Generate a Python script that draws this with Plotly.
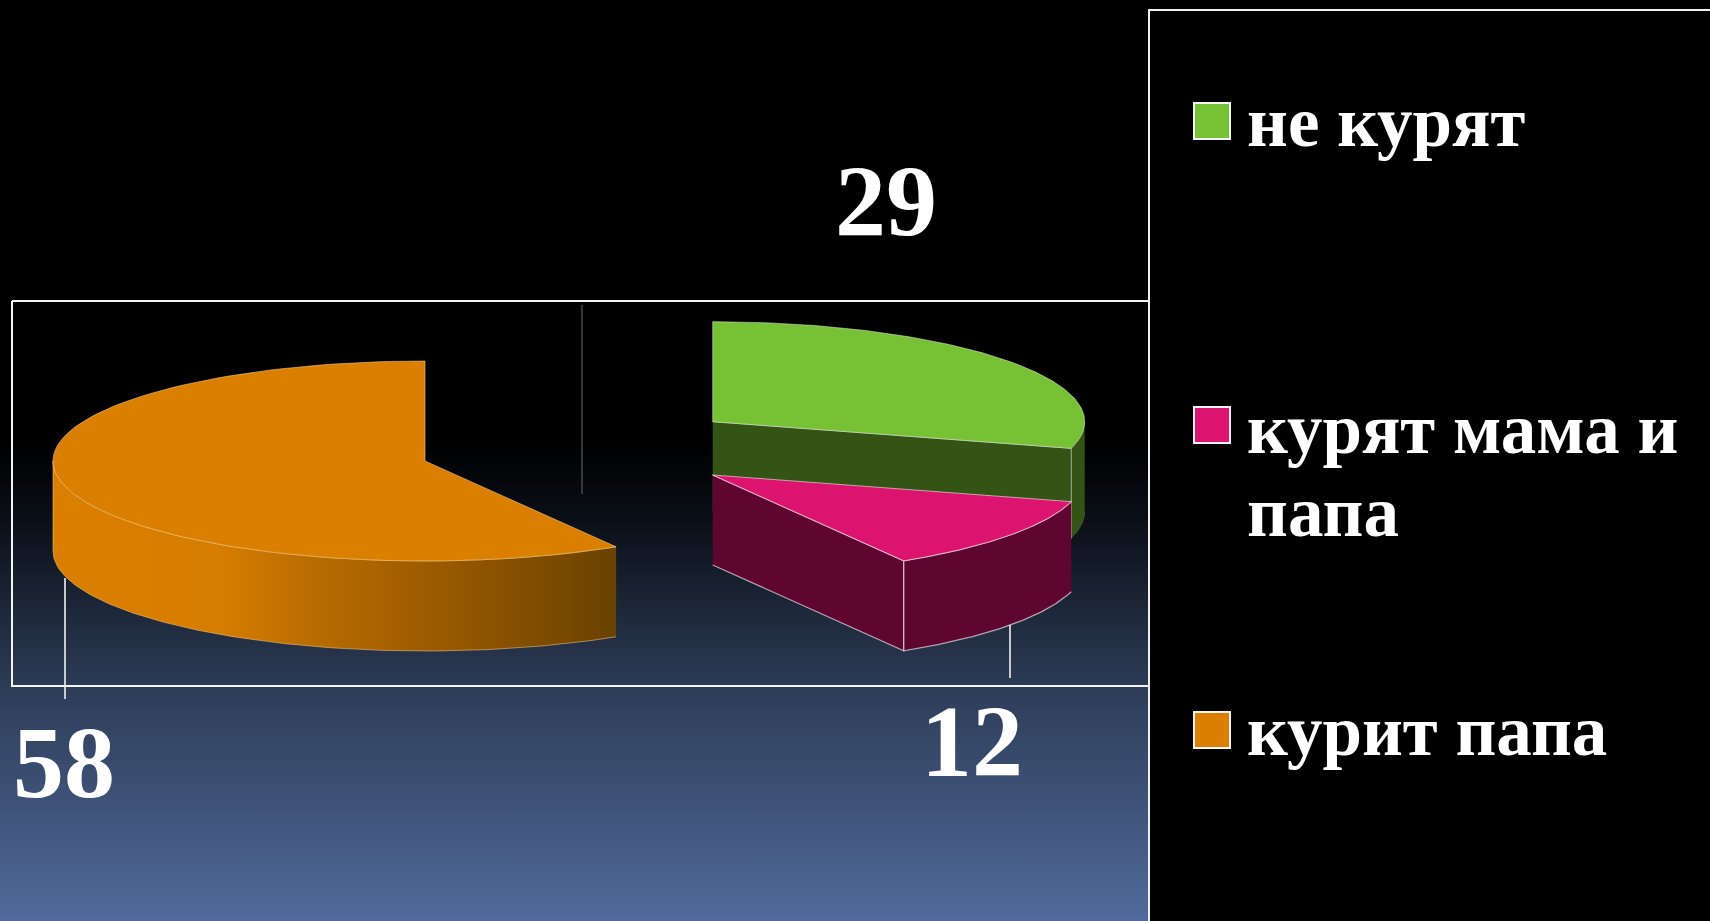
import numpy as np
import plotly.graph_objects as go

# ---- chart data ----
categories = ["не курят", "курят мама и папа", "курит папа"]
legend_lines = ["не курят", "курят мама и", "папа", "курит папа"]
values = [29, 12, 58]
top_colors = ["#77c135", "#dc146f", "#db7f00"]
side_colors = ["#345416", "#5e0530", "#db7f00"]

# ---- layout constants (pixel-space axes) ----
W, H = 1710, 921
RX, RY, DEPTH = 372, 100, 90
apexes = [(712.7, 421.7), (712.7, 475.0), (425.0, 461.0)]
label_pos = [(886, 210), (972, 750), (64, 771)]
leaders = [((582, 582), (305, 494), "#444444"),
           ((1010, 1010), (625, 678), "#f0f0f0"),
           ((65, 65), (578, 699), "#f0f0f0")]
EDGE = "rgba(255,255,255,0.55)"
SERIF = "Liberation Serif"

fig = go.Figure()


def poly(xs, ys, color=None, line=EDGE, width=1, gradient=None):
    kw = dict(fillgradient=gradient) if gradient else dict(fillcolor=color)
    fig.add_trace(go.Scatter(x=list(xs), y=list(ys), mode="lines", fill="toself",
                             line=dict(color=line, width=width),
                             hoverinfo="skip", showlegend=False, **kw))


def arc(apex, t0, t1, dy=0.0, n=120):
    t = np.radians(np.linspace(t0, t1, n))
    return apex[0] + RX * np.sin(t), apex[1] - RY * np.cos(t) + dy


# background gradient
poly([0, W, W, 0], [0, 0, H, H], line="rgba(0,0,0,0)", width=0,
     gradient=dict(type="vertical", start=0, stop=H,
                   colorscale=[[0, "#000000"], [0.48, "#000000"], [0.56, "#0a0e16"],
                               [0.76, "#2f3f5b"], [1, "#516a9b"]]))
# plot-area frame
fig.add_trace(go.Scatter(x=[12, 1149, 1149, 12, 12], y=[301, 301, 686, 686, 301], mode="lines",
                         line=dict(color="#f4f4f4", width=2), hoverinfo="skip", showlegend=False))
# leader lines
for lx, ly, lc in leaders:
    fig.add_trace(go.Scatter(x=lx, y=ly, mode="lines", line=dict(color=lc, width=1.6),
                             hoverinfo="skip", showlegend=False))

# slice angles come from the values
total = sum(values)
ends = np.cumsum(values) / total * 360.0
starts = np.r_[0.0, ends[:-1]]

# green slice
a = apexes[0]; t0, t1 = starts[0], ends[0]
rx, ry = arc(a, max(t0, 90), t1)
poly(np.r_[rx, rx[::-1]], np.r_[ry, ry[::-1] + DEPTH], side_colors[0], line="rgba(255,255,255,0.12)")
ex, ey = arc(a, t1, t1, n=1)
poly([a[0], ex[0], ex[0], a[0]], [a[1], ey[0], ey[0] + DEPTH, a[1] + DEPTH], side_colors[0])
tx, ty = arc(a, t0, t1)
poly(np.r_[a[0], tx, a[0]], np.r_[a[1], ty, a[1]], top_colors[0], line="rgba(255,255,255,0.45)")

# pink slice
a = apexes[1]; t0, t1 = starts[1], ends[1]
ex, ey = arc(a, t1, t1, n=1)
poly([a[0], ex[0], ex[0], a[0]], [a[1], ey[0], ey[0] + DEPTH, a[1] + DEPTH], side_colors[1],
     line="rgba(255,255,255,0.6)", width=1.3)
rx, ry = arc(a, t0, t1)
poly(np.r_[rx, rx[::-1]], np.r_[ry, ry[::-1] + DEPTH], side_colors[1],
     line="rgba(255,255,255,0.6)", width=1.3)
tx, ty = arc(a, t0, t1)
poly(np.r_[a[0], tx, a[0]], np.r_[a[1], ty, a[1]], top_colors[1])

# orange slice
a = apexes[2]; t0, t1 = starts[2], ends[2]
rx, ry = arc(a, t0, 270)
poly(np.r_[rx, rx[::-1]], np.r_[ry, ry[::-1] + DEPTH], line="rgba(255,200,120,0.55)",
     gradient=dict(type="horizontal", start=a[0] - RX, stop=a[0] + RX * np.sin(np.radians(t0)),
                   colorscale=[[0, "#db7f00"], [0.3, "#d67c00"], [0.465, "#b86c00"],
                               [0.606, "#a56000"], [0.863, "#7f4c00"], [1, "#684200"]]))
tx, ty = arc(a, t0, t1)
poly(np.r_[a[0], tx, a[0]], np.r_[a[1], ty, a[1]], top_colors[2], line="rgba(255,210,140,0.55)")

# legend box
fig.add_trace(go.Scatter(x=[W + 5, 1149, 1149, W + 5, W + 5], y=[10, 10, H + 5, H + 5, 10], mode="lines",
                         fill="toself", fillcolor="#000000", line=dict(color="#f0f0f0", width=2),
                         hoverinfo="skip", showlegend=False))
legend_y = [121, 425, 730]
text_y = [128, 435, 518, 737]
fig.add_trace(go.Scatter(x=[1212] * 3, y=legend_y, mode="markers",
                         marker=dict(symbol="square", size=36, color=top_colors,
                                     line=dict(color="#f4f4f4", width=2)),
                         hoverinfo="skip", showlegend=False))
fig.add_trace(go.Scatter(x=[1247] * 4, y=text_y, mode="text", text=legend_lines,
                         textposition="middle right", cliponaxis=False,
                         textfont=dict(family=SERIF, size=71, color="#ffffff", weight=700),
                         hoverinfo="skip", showlegend=False))
# data labels
fig.add_trace(go.Scatter(x=[p[0] for p in label_pos], y=[p[1] for p in label_pos], mode="text",
                         text=[str(v) for v in values], textposition="middle center", cliponaxis=False,
                         textfont=dict(family=SERIF, size=102, color="#ffffff", weight=700),
                         hoverinfo="skip", showlegend=False))

fig.update_layout(width=W, height=H, margin=dict(l=0, r=0, t=0, b=0), paper_bgcolor="#000000",
                  plot_bgcolor="#000000", showlegend=False,
                  xaxis=dict(range=[0, W], visible=False, fixedrange=True),
                  yaxis=dict(range=[H, 0], visible=False, fixedrange=True))
fig.write_html("out.html", config={"displayModeBar": False},
               post_script="document.body.style.margin='0';document.body.style.background='#000';document.body.style.overflow='hidden';")
